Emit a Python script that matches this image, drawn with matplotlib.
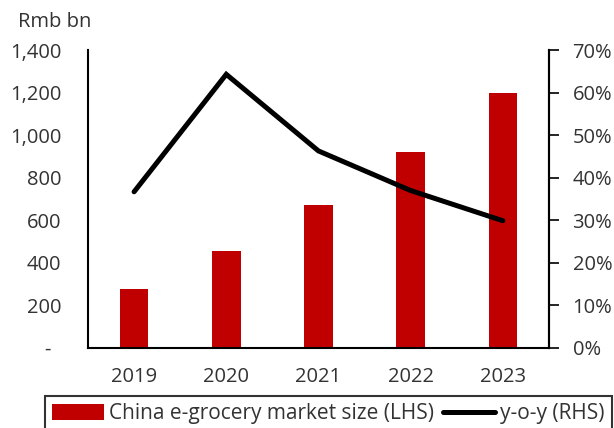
import matplotlib.pyplot as plt
from matplotlib.ticker import FuncFormatter

plt.rcParams['font.family'] = ['Open Sans', 'DejaVu Sans']

years = ["2019", "2020", "2021", "2022", "2023"]
market_size = [277, 457, 670, 921, 1196]
yoy = [36.7, 64.3, 46.3, 37.0, 29.9]

fig = plt.figure(figsize=(6.14, 4.28), dpi=100)
ax = fig.add_axes([0.1433, 0.187, 0.7507, 0.696])
ax2 = ax.twinx()

x = range(len(years))
bars = ax.bar(x, market_size, width=0.31, color='#C00000',
              label='China e-grocery market size (LHS)', zorder=2)
line, = ax2.plot(x, yoy, color='black', linewidth=3.6,
                 solid_capstyle='round', solid_joinstyle='miter',
                 label='y-o-y (RHS)')

ax.set_xlim(-0.5, 4.5)
ax.set_ylim(0, 1400)
ax.set_yticks(range(0, 1401, 200))
ax.yaxis.set_major_formatter(FuncFormatter(lambda v, p: '-  ' if v == 0 else f'{v:,.0f}'))
ax2.set_ylim(0, 70)
ax2.set_yticks(range(0, 71, 10))
ax2.yaxis.set_major_formatter(FuncFormatter(lambda v, p: f'{v:.0f}%'))

ax.set_xticks(list(x))
ax.set_xticklabels(years)

fs = 14.5
text_color = '#333333'
ax.tick_params(axis='x', length=0, labelsize=fs, pad=14, colors=text_color)
ax.tick_params(axis='y', length=0, labelsize=fs, pad=19, colors=text_color)
ax2.tick_params(axis='y', length=7, width=1.2, direction='out', labelsize=fs,
                pad=10, labelcolor=text_color)

for a in (ax, ax2):
    a.spines['top'].set_visible(False)
    for s in a.spines.values():
        s.set_linewidth(1.5)
ax2.spines['left'].set_visible(False)
ax2.spines['bottom'].set_visible(False)

fig.text(0.03, 0.948, 'Rmb bn', fontsize=fs, color=text_color, va='center')

leg = fig.legend([bars, line], [bars.get_label(), line.get_label()],
                 loc='upper left', bbox_to_anchor=(0.073, 0.075), ncol=2,
                 fontsize=15, frameon=True, fancybox=False, edgecolor='black',
                 handlelength=2.5, handleheight=0.8, handletextpad=0.25,
                 columnspacing=0.4, borderpad=0.35, borderaxespad=0)
leg.get_frame().set_linewidth(1.5)
for t in leg.get_texts():
    t.set_color(text_color)

fig.savefig('out.png', dpi=100)
